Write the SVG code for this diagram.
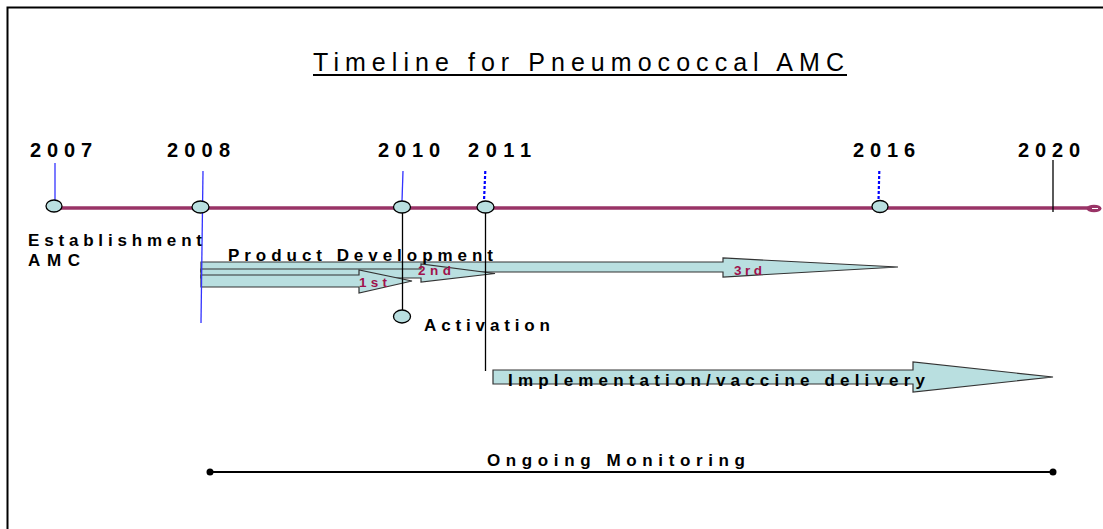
<svg xmlns="http://www.w3.org/2000/svg" width="1103" height="529" viewBox="0 0 1103 529">
  <style>
    .lbl { font-family: "Liberation Sans", Arial, sans-serif; font-weight: bold; fill: #000; }
    .yr { font-size: 20px; }
    .sm { font-size: 17px; }
    .ord { font-family: "Liberation Sans", Arial, sans-serif; font-weight: bold; font-size: 13.5px; fill: #a0124c; }
    .node { fill: #b9dfe0; stroke: #000; stroke-width: 1.3; }
    .band { fill: #b9dfe0; stroke: #333; stroke-width: 1.2; stroke-linejoin: miter; }
    .tick { stroke: #3333ff; stroke-width: 1.3; fill: none; }
    .dot { stroke: #0000ff; stroke-width: 2.2; stroke-dasharray: 3 2; fill: none; }
    .drop { stroke: #000; stroke-width: 1.3; fill: none; }
  </style>

  <rect width="1103" height="529" fill="#fff"/>
  <!-- frame -->
  <path d="M7.5,529 V7.5 H1103" fill="none" stroke="#000" stroke-width="2"/>

  <!-- heading -->
  <g id="title">
    <text x="313" y="71" font-family="'Liberation Sans', Arial, sans-serif" font-size="25" textLength="531" lengthAdjust="spacing">Timeline for Pneumococcal AMC</text>
    <line x1="313" y1="75" x2="847" y2="75" stroke="#000" stroke-width="2"/>
  </g>

  <!-- phase arrows -->
  <g id="phase-arrows">
    <path class="band" d="M201,262 H723 V258 L898,267 L723,277 V272 H201 Z"/>
    <path class="band" d="M201,269 H421 V264 L495,273.5 L421,282 V278 H201 Z"/>
    <path class="band" stroke="#000" d="M201,275 H359 V270 L412,281 L359,293 V287 H201 Z"/>
    <path class="band" d="M493,370 H913 V362 L1053,377 L913,392 V384 H493 Z"/>
  </g>

  <!-- connectors -->
  <g id="connectors">
    <line x1="54" y1="208" x2="1088" y2="208" stroke="#993366" stroke-width="3.5"/>
    <ellipse cx="1094" cy="208.5" rx="7.5" ry="3.8" fill="#993366"/>
    <line x1="1092" y1="208.5" x2="1098" y2="208.5" stroke="#fff" stroke-width="1"/>

    <line class="tick" x1="55" y1="163" x2="55" y2="201"/>
    <line class="tick" x1="203" y1="171" x2="201" y2="323"/>
    <line class="tick" x1="403" y1="171" x2="402" y2="201"/>
    <line class="dot" x1="485.3" y1="171" x2="484" y2="201"/>
    <line class="dot" x1="879.3" y1="171" x2="878.5" y2="201"/>
    <line class="drop" x1="1053" y1="160" x2="1053" y2="212"/>

    <line class="drop" x1="402.5" y1="213" x2="402.5" y2="310"/>
    <line class="drop" x1="485.5" y1="213" x2="485.5" y2="371"/>

    <line x1="210" y1="472" x2="1053" y2="472" stroke="#000" stroke-width="2"/>
    <circle cx="210" cy="472" r="3.5" fill="#000"/>
    <circle cx="1053" cy="472" r="3.5" fill="#000"/>
  </g>

  <!-- milestones -->
  <g id="m2007">
    <ellipse class="node" cx="54" cy="206" rx="8" ry="6"/>
    <text class="lbl yr" x="30" y="157" textLength="62" lengthAdjust="spacing">2007</text>
  </g>
  <g id="m2008">
    <ellipse class="node" cx="200.5" cy="207" rx="8.5" ry="6"/>
    <text class="lbl yr" x="167" y="157" textLength="63" lengthAdjust="spacing">2008</text>
  </g>
  <g id="m2010">
    <ellipse class="node" cx="402" cy="207" rx="8.5" ry="6"/>
    <text class="lbl yr" x="378" y="157" textLength="62" lengthAdjust="spacing">2010</text>
  </g>
  <g id="m2011">
    <ellipse class="node" cx="485.5" cy="207" rx="8.5" ry="6"/>
    <text class="lbl yr" x="468" y="157" textLength="63" lengthAdjust="spacing">2011</text>
  </g>
  <g id="m2016">
    <ellipse class="node" cx="880" cy="206.5" rx="8" ry="6"/>
    <text class="lbl yr" x="853" y="157" textLength="62" lengthAdjust="spacing">2016</text>
  </g>
  <g id="m2020">
    <text class="lbl yr" x="1018" y="157" textLength="62" lengthAdjust="spacing">2020</text>
  </g>

  <g id="establishment">
    <text class="lbl sm" x="28" y="246" textLength="174" lengthAdjust="spacing">Establishment</text>
    <text class="lbl sm" x="28" y="266" textLength="52" lengthAdjust="spacing">AMC</text>
  </g>

  <g id="product-development">
    <text class="lbl sm" x="228" y="261" textLength="265" lengthAdjust="spacing">Product Development</text>
    <text class="ord" x="359" y="287" textLength="28" lengthAdjust="spacing">1st</text>
    <text class="ord" x="418" y="275" textLength="33" lengthAdjust="spacing">2nd</text>
    <text class="ord" x="734" y="275" textLength="28" lengthAdjust="spacing">3rd</text>
  </g>

  <g id="activation">
    <ellipse class="node" cx="402" cy="316.5" rx="8.5" ry="6.5"/>
    <text class="lbl sm" x="424" y="331" textLength="126" lengthAdjust="spacing">Activation</text>
  </g>

  <g id="implementation">
    <text class="lbl sm" x="508" y="386" textLength="417" lengthAdjust="spacing">Implementation/vaccine delivery</text>
  </g>

  <g id="monitoring">
    <text class="lbl sm" x="487" y="466" textLength="258" lengthAdjust="spacing">Ongoing Monitoring</text>
  </g>
</svg>
